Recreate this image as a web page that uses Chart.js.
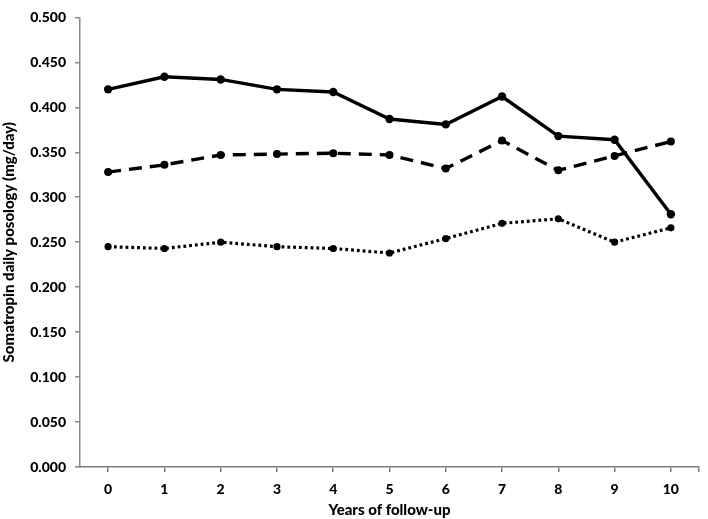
<!DOCTYPE html>
<html><head><meta charset="utf-8">
<script src="https://cdn.jsdelivr.net/npm/chart.js@4/dist/chart.umd.min.js"></script>
<style>html,body{margin:0;padding:0;background:#fff}#wrap{width:708px;height:519px}</style>
</head><body><div id="wrap"><canvas id="c" width="708" height="519"></canvas></div>
<script>
const years = [0,1,2,3,4,5,6,7,8,9,10];
const solidSeries = [0.420,0.434,0.431,0.420,0.417,0.387,0.381,0.412,0.368,0.364,0.281];
const dashedSeries = [0.328,0.336,0.347,0.348,0.349,0.347,0.332,0.363,0.330,0.346,0.362];
const dottedSeries = [0.245,0.243,0.250,0.245,0.243,0.238,0.254,0.271,0.276,0.250,0.266];
const yTicks = [0,0.05,0.1,0.15,0.2,0.25,0.3,0.35,0.4,0.45,0.5];
const xTitle = 'Years of follow-up';
const yTitle = 'Somatropin daily posology (mg/day)';

const FONT = 'Lato, "Open Sans", sans-serif';
const toPts = arr => arr.map((v,i)=>({x:years[i],y:v}));
function ds(arr, dash, lw, r){
  return {data: toPts(arr), borderColor:'#000', backgroundColor:'#000', borderWidth:lw,
    borderDash:dash, pointRadius:r, pointBorderWidth:0, pointBackgroundColor:'#000',
    tension:0, fill:false};
}
new Chart(document.getElementById('c'), {
  type:'line',
  data:{datasets:[
    ds(solidSeries, [], 3.4, 4.2),
    ds(dashedSeries, [13,8], 3.4, 4),
    ds(dottedSeries, [2.8,3], 3.2, 3.6)
  ]},
  options:{
    responsive:false, animation:false, devicePixelRatio:1,
    layout:{padding:{top:6,right:1,left:0,bottom:0}},
    plugins:{legend:{display:false}, tooltip:{enabled:false}},
    scales:{
      x:{type:'linear', min:-0.5, max:10.5,
        afterBuildTicks: s => { s.ticks = years.concat([10.5]).map(v=>({value:v})); },
        afterFit: s => { s.height = 52; },
        border:{color:'#7a7a7a', width:1.5},
        grid:{drawOnChartArea:false, tickLength:5, color:'#7a7a7a', lineWidth:1.5},
        ticks:{padding:9, color:'#000', font:{family:FONT, size:14, weight:900},
          maxRotation:0, autoSkip:false,
          callback: v => Number.isInteger(v) ? String(v) : ''},
        title:{display:true, text:xTitle, color:'#000', font:{family:FONT, size:15, weight:900}, padding:{top:2,bottom:0}}
      },
      y:{min:0, max:0.5,
        afterBuildTicks: s => { s.ticks = yTicks.map(v=>({value:v})); },
        afterFit: s => { s.width = 80; },
        border:{color:'#8a8a8a', width:1.5},
        grid:{drawOnChartArea:false, tickLength:5, color:'#8a8a8a', lineWidth:1.5},
        ticks:{padding:9, color:'#000', font:{family:FONT, size:14, weight:900},
          callback: v => v.toFixed(3)},
        title:{display:true, text:yTitle, color:'#000', font:{family:FONT, size:15, weight:900}, padding:{top:0,bottom:0}}
      }
    }
  }
});
</script></body></html>
